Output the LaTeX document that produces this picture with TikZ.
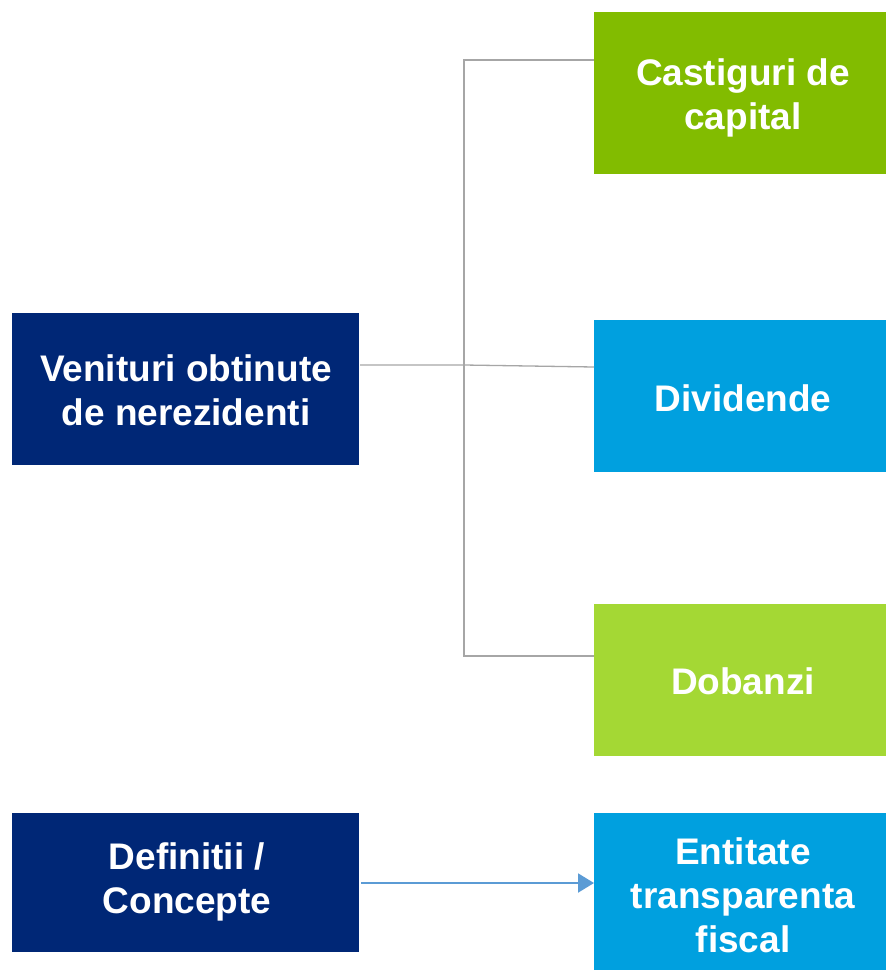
\documentclass[tikz,border=0pt]{standalone}
\usepackage{fontspec}
\setmainfont{Liberation Sans}
\usetikzlibrary{arrows.meta}
\definecolor{navy}{RGB}{0,39,118}
\definecolor{dgreen}{RGB}{130,188,0}
\definecolor{lgreen}{RGB}{164,216,52}
\definecolor{cyanblue}{RGB}{0,160,223}
\definecolor{conn}{RGB}{166,166,166}
\definecolor{arrowblue}{RGB}{91,155,213}
\tikzset{
  box/.style={draw=none, inner sep=0pt, text=white, align=center,
    font=\fontsize{37}{44}\selectfont\bfseries},
  link/.style={draw=conn, line width=1.3pt},
  arr/.style={draw=arrowblue, line width=2pt, -{Triangle[length=16pt,width=19pt]}}
}
\begin{document}
\begin{tikzpicture}[x=1pt,y=-1pt]
\useasboundingbox (0,0) rectangle (886,970);
\fill[white] (0,0) rectangle (886,970);
% boxes
\fill[dgreen] (594,12) rectangle (886,174);
\node[box] (cap) at (743,98) {Castiguri de\\capital};
\fill[navy] (12,313) rectangle (359,465);
\node[box] (ven) at (186,390) {Venituri obtinute\\de nerezidenti};
\fill[cyanblue] (594,320) rectangle (886,472);
\node[box] (div) at (743,398) {Dividende};
\fill[lgreen] (594,604) rectangle (886,756);
\node[box] (dob) at (743,681) {Dobanzi};
\fill[navy] (12,813) rectangle (359,952);
\node[box] (def) at (187,882) {Definitii /\\Concepte};
\fill[cyanblue] (594,813) rectangle (886,970);
\node[box] (ent) at (743,895) {Entitate\\transparenta\\fiscal};
% connectors
\coordinate (venR) at (360,365);
\coordinate (j) at (464,365);
\coordinate (capL) at (594,60);
\coordinate (divL) at (594,367);
\coordinate (dobL) at (594,656);
\draw[link] (venR) -- (j) -- (divL);
\draw[link] (capL) -- (464,60) -- (464,656) -- (dobL);
\coordinate (defR) at (361,883);
\coordinate (entL) at (594,883);
\draw[arr] (defR) -- (entL);
\end{tikzpicture}
\end{document}
